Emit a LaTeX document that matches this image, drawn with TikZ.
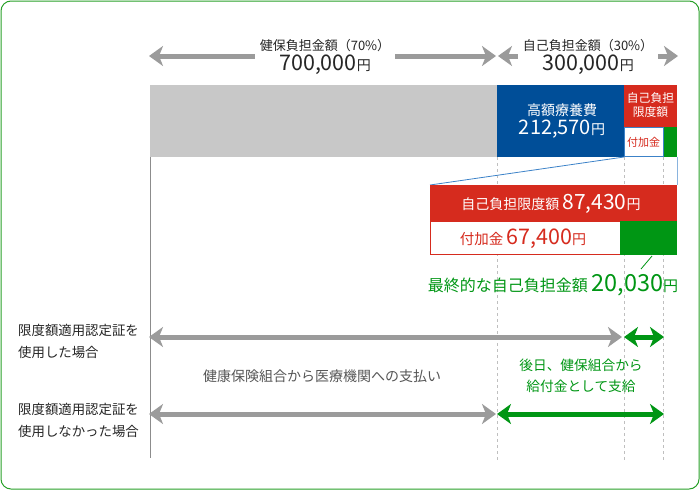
\documentclass[tikz,border=0pt]{standalone}
\usepackage{fontspec}
\setmainfont{Noto Sans CJK JP}
\usetikzlibrary{arrows.meta}
\definecolor{framegreen}{RGB}{40,160,40}
\definecolor{kgreen}{RGB}{0,150,20}
\definecolor{kblue}{RGB}{0,78,152}
\definecolor{kred}{RGB}{214,43,30}
\definecolor{kgray}{RGB}{200,200,200}
\definecolor{arrgray}{RGB}{155,155,155}
\definecolor{lineblue}{RGB}{60,130,200}
\definecolor{txtgray}{RGB}{85,85,85}
\newcommand{\fs}[1]{\fontsize{#1}{#1}\selectfont}
\newcommand{\smallyen}{{\fs{14}円}}

\begin{document}
\begin{tikzpicture}[x=1pt,y=-1pt]

\tikzstyle{every node}=[inner sep=0pt, text=black!85]
\tikzstyle{bigarrow}=[line width=5pt, {Stealth[length=14pt,width=20pt,inset=4pt]}-{Stealth[length=14pt,width=20pt,inset=4pt]}]
\tikzstyle{grayarrow}=[bigarrow, draw=arrgray, color=arrgray]
\tikzstyle{greenarrow}=[bigarrow, draw=kgreen, color=kgreen]
\tikzstyle{guide}=[draw=black!25, dash pattern=on 3pt off 3pt, line width=0.8pt]
\tikzstyle{rowlabel}=[anchor=west, align=left, font=\fontsize{13.4}{22}\selectfont]

\useasboundingbox (0,0) rectangle (700,490);
\draw[framegreen, line width=1pt, rounded corners=10pt] (1,1) rectangle (699,489);

% guide lines
\draw[draw=black!45, line width=0.6pt] (150,157) -- (150,458);
\draw[guide] (497,157) -- (497,462);
\draw[guide] (624,157) -- (624,462);
\draw[guide] (663,157) -- (663,462);

% top arrows
\coordinate (kenpoL) at (149,56);
\coordinate (kenpoR) at (496,56);
\coordinate (jikoL) at (498,56);
\coordinate (jikoR) at (678,56);
\draw[grayarrow] (kenpoL) -- (kenpoR);
\draw[grayarrow] (jikoL) -- (jikoR);
\node (kenpolbl) at (325,57) [fill=white, inner xsep=5pt, inner ysep=2pt, align=center, font=\fs{13}]
  {健保負担金額（70\%）\\[2pt]{\fs{21.5}700,000\smallyen}};
\node (jikolbl) at (588,57) [fill=white, inner xsep=5pt, inner ysep=2pt, align=center, font=\fs{13}]
  {自己負担金額（30\%）\\[2pt]{\fs{21.5}300,000\smallyen}};

% upper bar
\fill[kgray] (150,85) rectangle (497,157);
\fill[kblue] (497,85) rectangle (624,157);
\fill[kred] (624,85) rectangle (677,127);
\fill[kgreen] (663,127) rectangle (677,157);
\draw[lineblue, fill=white, line width=0.8pt] (624.4,127.4) rectangle (663,156.6);
\node (kogaku) at (562,121) [align=center, text=white, font=\fs{14}]
  {高額療養費\\[3pt]{\fs{20}212,570\smallyen}};
\node (gendo) at (650.5,105) [align=center, text=white, font=\fontsize{11.8}{14}\selectfont]
  {自己負担\\限度額};
\node (fukaS) at (643.5,142.5) [text=kred, font=\fs{11}] {付加金};

% zoom lines
\draw[lineblue, line width=0.8pt] (624,157) -- (430,185);
\draw[lineblue!60, line width=0.8pt] (677,157) -- (677,185);

% lower bar
\fill[kred] (430,185) rectangle (677,221);
\draw[kred, fill=white, line width=1pt] (430.5,221.5) rectangle (620,254.5);
\fill[kgreen] (620,221) rectangle (677,255);
\node (gendoL) at (551,204) [text=white, font=\fs{14}] {自己負担限度額 {\fs{21}87,430}\smallyen};
\node (fukaL) at (523,239) [text=kred, font=\fs{14.5}] {付加金 {\fs{21.5}67,400}\smallyen};

% final amount
\coordinate (leadA) at (652,256);
\coordinate (leadB) at (641,269);
\draw[kgreen, line width=0.8pt] (leadA) -- (leadB);
\node (saishu) at (553,285) [text=kgreen, font=\fs{16}] {最終的な自己負担金額 {\fs{23.5}20,030}{\fs{15}円}};

% lower arrows
\node (rowA) at (18,341) [rowlabel] {限度額適用認定証を\\使用した場合};
\node (rowB) at (18,420) [rowlabel] {限度額適用認定証を\\使用しなかった場合};
\coordinate (aL) at (149,337);
\coordinate (aM) at (622,337);
\coordinate (aN) at (624,337);
\coordinate (aR) at (664,337);
\coordinate (bL) at (149,414);
\coordinate (bM) at (496,414);
\coordinate (bN) at (497,414);
\coordinate (bR) at (664,414);
\draw[grayarrow] (aL) -- (aM);
\draw[greenarrow] (aN) -- (aR);
\draw[grayarrow] (bL) -- (bM);
\draw[greenarrow] (bN) -- (bR);

\node (shiharai) at (322,376) [text=txtgray, font=\fs{14}] {健康保険組合から医療機関への支払い};
\node (kyufu) at (581,376) [text=kgreen, align=center, font=\fontsize{13.7}{21}\selectfont]
  {後日、健保組合から\\給付金として支給};

\end{tikzpicture}
\end{document}
